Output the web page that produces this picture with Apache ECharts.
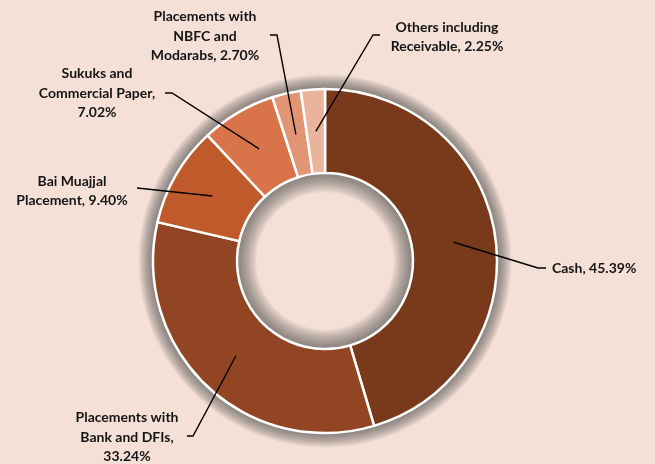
<!DOCTYPE html>
<html>
<head>
<meta charset="utf-8">
<style>
  html, body { margin: 0; padding: 0; background: #F5E0D7; }
  #chart { width: 655px; height: 464px; }
</style>
<script src="https://cdn.jsdelivr.net/npm/echarts@6/dist/echarts.min.js"></script>
</head>
<body>
<div id="chart"></div>
<script>
// Asset mix (% of total)
const categories = [
  'Cash',
  'Placements with Bank and DFIs',
  'Bai Muajjal Placement',
  'Sukuks and Commercial Paper',
  'Placements with NBFC and Modarabs',
  'Others including Receivable'
];
const shares = [45.39, 33.24, 9.40, 7.02, 2.70, 2.25];
// Label text per slice; {v} is replaced by the share
const labelTemplates = [
  'Cash, {v}',
  'Placements with\nBank and DFIs,\n{v}',
  'Bai Muajjal\nPlacement, {v}',
  'Sukuks and\nCommercial Paper,\n{v}',
  'Placements with\nNBFC and\nModarabs, {v}',
  'Others including\nReceivable, {v}'
];
const sliceColors = ['#793A1B', '#924522', '#C05A2A', '#D9744A', '#E29574', '#EAB39B'];

// Ring geometry
const CENTER = ['49.62%', '56.25%'];
const R_INNER = 88;
const R_OUTER = 172;
const R_LEADER = 130;   // leader lines start at mid-ring

// Soft shadow: stacked translucent rings fading away from the ring edges
const GLOW_STEPS = 12;
const GLOW_STEP_IN = 1.6;
const GLOW_STEP_OUT = 1.2;
const GLOW_COLOR = 'rgba(72,68,66,0.07)';

// Where each label sits and how its leader line bends
const labelSpots = [
  { x: 552, y: 268, align: 'left',   bend: [538, 268], end: [546, 268] },
  { x: 127, y: 437, align: 'center', bend: [193, 436], end: [187, 436] },
  { x: 72,  y: 191, align: 'center', bend: [137, 188], end: [137, 188] },
  { x: 97,  y: 93,  align: 'center', bend: [172, 93],  end: [165, 93] },
  { x: 205, y: 36,  align: 'center', bend: [277, 35],  end: [270, 35] },
  { x: 447, y: 37,  align: 'center', bend: [373, 35],  end: [380, 35] }
];

const chart = echarts.init(document.getElementById('chart'));

function pct(s, total) { return parseFloat(s) / 100 * total; }

const glowSeries = [];
for (let k = 1; k <= GLOW_STEPS; k++) {
  glowSeries.push({
    type: 'pie',
    z: 1,
    center: CENTER,
    radius: [R_INNER - k * GLOW_STEP_IN, R_OUTER + k * GLOW_STEP_OUT],
    label: { show: false },
    itemStyle: { color: GLOW_COLOR },
    data: [{ value: 1, name: 'shade' + k }]
  });
}

const sliceData = categories.map(function (name, i) {
  return { name: name, value: shares[i] };
});

const option = {
  backgroundColor: '#F5E0D7',
  animation: false,
  series: glowSeries.concat([
    {
      // the slices
      type: 'pie',
      z: 2,
      center: CENTER,
      radius: [R_INNER, R_OUTER],
      startAngle: 90,
      clockwise: true,
      itemStyle: { borderColor: '#FFFFFF', borderWidth: 2.5 },
      label: { show: false },
      labelLine: { show: false },
      data: sliceData.map(function (d, i) {
        return { name: d.name, value: d.value, itemStyle: { color: sliceColors[i] } };
      })
    },
    {
      // labels and leader lines, drawn over the slices
      type: 'pie',
      z: 3,
      silent: true,
      center: CENTER,
      radius: [R_INNER, R_OUTER],
      startAngle: 90,
      clockwise: true,
      avoidLabelOverlap: false,
      itemStyle: { color: 'rgba(0,0,0,0)', borderWidth: 0 },
      label: {
        show: true,
        color: '#141414',
        fontFamily: 'Lato, "Open Sans", sans-serif',
        fontWeight: 'bold',
        fontSize: 14,
        lineHeight: 19.5,
        formatter: function (p) {
          return labelTemplates[p.dataIndex].replace('{v}', p.value.toFixed(2) + '%');
        }
      },
      labelLine: {
        show: true,
        lineStyle: { color: '#000000', width: 1.4 }
      },
      labelLayout: function (params) {
        const spot = labelSpots[params.dataIndex];
        const cx = pct(CENTER[0], chart.getWidth());
        const cy = pct(CENTER[1], chart.getHeight());
        const pts = params.labelLinePoints;
        let start = [cx, cy];
        if (pts && pts[0]) {
          const k = R_LEADER / R_OUTER;
          start = [cx + (pts[0][0] - cx) * k, cy + (pts[0][1] - cy) * k];
        }
        return {
          x: spot.x,
          y: spot.y,
          align: spot.align,
          verticalAlign: 'middle',
          labelLinePoints: [start, spot.bend, spot.end]
        };
      },
      data: sliceData
    }
  ])
};

chart.setOption(option);
</script>
</body>
</html>
